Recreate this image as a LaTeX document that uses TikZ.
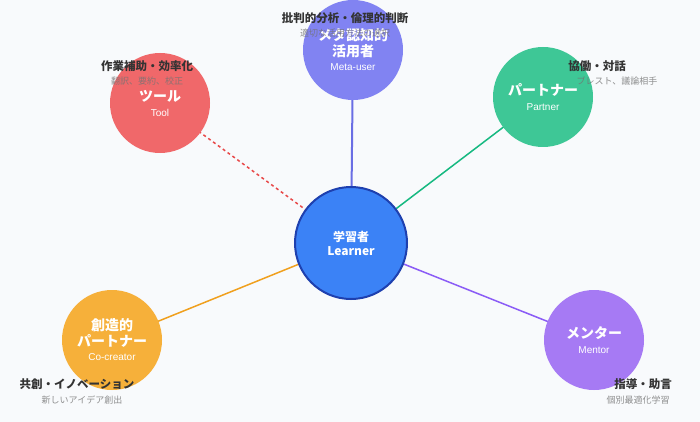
\documentclass[tikz,border=0pt]{standalone}
\usepackage{fontspec}
\setmainfont{Noto Sans CJK JP}
\newfontfamily\latinf{Liberation Sans}
\newcommand\engf{\latinf\fontsize{10}{12}\selectfont\mdseries}
\begin{document}
\begin{tikzpicture}[x=1pt,y=-1pt,
  role/.style={circle,minimum size=100pt,inner sep=0pt,align=center,text=white,font=\fontsize{14}{16}\selectfont\bfseries},
  ttl/.style={font=\fontsize{11.5}{13}\selectfont\bfseries,text=black!80},
  sub/.style={font=\fontsize{9}{11}\selectfont,text=black!55,text opacity=0.8}]
\fill[fill={rgb,255:red,248;green,250;blue,252}] (0,0) rectangle (700,422);
\useasboundingbox (0,0) rectangle (700,422);
\coordinate (c) at (351,243);
\coordinate (pm) at (353,50);
\coordinate (pt) at (160,103);
\coordinate (pp) at (543,97);
\coordinate (pc) at (112,340);
\coordinate (pn) at (594,340);
\draw[line width=2pt,color={rgb,255:red,106;green,110;blue,228}] (c) -- (pm);
\draw[line width=1.5pt,dashed,color={rgb,255:red,232;green,72;blue,72}] (c) -- (pt);
\draw[line width=1.5pt,color={rgb,255:red,22;green,185;blue,129}] (c) -- (pp);
\draw[line width=1.5pt,color={rgb,255:red,240;green,160;blue,30}] (c) -- (pc);
\draw[line width=1.5pt,color={rgb,255:red,139;green,92;blue,246}] (c) -- (pn);
\node[role,fill={rgb,255:red,129;green,131;blue,242}] (meta) at (pm) {メタ認知的\\活用者\\[-2pt]{\engf Meta-user}};
\node[role,fill={rgb,255:red,240;green,104;blue,106}] (tool) at (pt) {ツール\\[-1pt]{\engf Tool}};
\node[role,fill={rgb,255:red,62;green,199;blue,150}] (part) at (pp) {パートナー\\[-1pt]{\engf Partner}};
\node[role,fill={rgb,255:red,246;green,176;blue,58}] (co) at (pc) {創造的\\パートナー\\[-2pt]{\engf Co-creator}};
\node[role,fill={rgb,255:red,166;green,122;blue,244}] (men) at (pn) {メンター\\[-1pt]{\engf Mentor}};
\node[role,minimum size=112pt,fill={rgb,255:red,59;green,130;blue,246},draw={rgb,255:red,30;green,64;blue,175},line width=2pt,font=\fontsize{12}{14}\selectfont\bfseries] (learner) at (c) {学習者\\Learner};
\node[sub] (s1) at (345,33) {適切な活用方法の選択};
\node[sub] (s2) at (147,81) {翻訳、要約、校正};
\node[sub] (s3) at (617,81) {ブレスト、議論相手};
\node[sub] (s4) at (82,400) {新しいアイデア創出};
\node[sub] (s5) at (638,400) {個別最適化学習};
\node[ttl] (t1) at (345,18) {批判的分析・倫理的判断};
\node[ttl] (t2) at (147,66) {作業補助・効率化};
\node[ttl] (t3) at (597,66) {協働・対話};
\node[ttl] (t4) at (77,384) {共創・イノベーション};
\node[ttl] (t5) at (643,384) {指導・助言};
\end{tikzpicture}
\end{document}
